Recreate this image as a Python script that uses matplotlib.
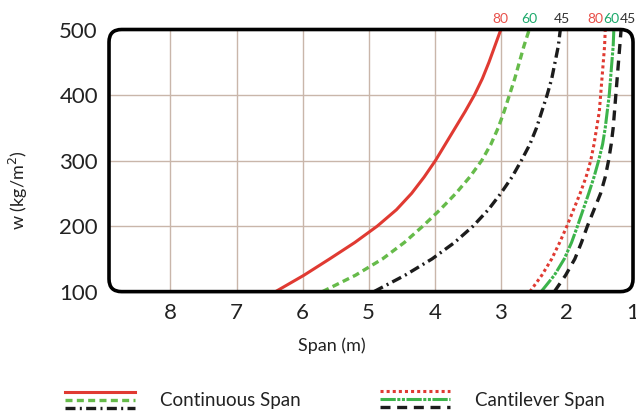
import numpy as np
import matplotlib
matplotlib.use("Agg")
import matplotlib.pyplot as plt
from matplotlib.patches import FancyBboxPatch
from matplotlib.lines import Line2D

# load levels (kg/m2) and allowable spans (m)
w = [100, 125, 150, 175, 200, 225, 250, 275, 300, 325, 350, 375, 400, 425, 450, 475, 500]
cont_80 = [6.41, 5.98, 5.59, 5.21, 4.87, 4.58, 4.35, 4.16, 3.99, 3.84, 3.69, 3.54, 3.40, 3.28, 3.18, 3.09, 3.00]
cont_60 = [5.70, 5.20, 4.79, 4.46, 4.18, 3.92, 3.68, 3.47, 3.29, 3.15, 3.04, 2.95, 2.87, 2.79, 2.72, 2.65, 2.57]
cont_45 = [4.92, 4.45, 4.04, 3.70, 3.42, 3.19, 3.00, 2.83, 2.69, 2.56, 2.46, 2.38, 2.30, 2.23, 2.18, 2.13, 2.10]
cant_80 = [2.56, 2.38, 2.23, 2.11, 2.00, 1.90, 1.80, 1.71, 1.64, 1.59, 1.55, 1.51, 1.49, 1.47, 1.45, 1.43, 1.42]
cant_60 = [2.39, 2.19, 2.04, 1.93, 1.84, 1.755, 1.67, 1.59, 1.52, 1.46, 1.42, 1.39, 1.36, 1.34, 1.32, 1.30, 1.29]
cant_45 = [2.19, 2.02, 1.88, 1.78, 1.69, 1.59, 1.49, 1.42, 1.37, 1.33, 1.30, 1.28, 1.26, 1.24, 1.22, 1.20, 1.18]
labels = ["80", "60", "45"]
x_ticks = [8, 7, 6, 5, 4, 3, 2, 1]
y_ticks = [100, 200, 300, 400, 500]

RED = "#e03a32"
GREEN = "#66bb4a"
GREEN2 = "#3cb44b"
BLACK = "#1c1c1c"
LBL_RED = "#e8504a"
LBL_GREEN = "#1aa86a"
LBL_BLACK = "#333333"

plt.rcParams["font.family"] = ["Lato", "DejaVu Sans"]

fig = plt.figure(figsize=(6.36, 4.15), dpi=100)
ax = fig.add_axes([0.1714, 0.2973, 0.8239, 0.6316])

styles = [
    (cont_80, dict(color=RED, lw=2.2, ls="-")),
    (cont_60, dict(color=GREEN, lw=2.4, ls=(0, (2.1, 1.3)))),
    (cont_45, dict(color=BLACK, lw=2.4, ls=(0, (3.0, 1.3, 0.6, 1.3)))),
    (cant_80, dict(color=RED, lw=2.2, ls=(0, (1.0, 1.0)))),
    (cant_60, dict(color=GREEN2, lw=2.2, ls=(0, (5, 0.5, 1, 0.5, 1, 0.5)))),
    (cant_45, dict(color=BLACK, lw=2.4, ls=(0, (3.0, 2.0)))),
]
for xs, st in styles:
    ax.plot(xs, w, solid_capstyle="butt", dash_capstyle="butt", solid_joinstyle="round", **st)

ax.set_xlim(8.93, 1.0)
ax.set_ylim(100, 500)
ax.set_xticks(x_ticks)
ax.set_yticks(y_ticks)
ax.grid(True, color="#c9b6aa", lw=1.0)
ax.tick_params(length=0, labelsize=16, colors="#222222")
ax.tick_params(axis="x", pad=8)
ax.tick_params(axis="y", pad=8)
for s in ax.spines.values():
    s.set_visible(False)

# rounded frame
bw, bh = 0.8239 * 636, 0.6316 * 415
frame = FancyBboxPatch((0, 0), 1, 1, boxstyle="round,pad=0,rounding_size=0.024",
                       mutation_aspect=bw / bh, transform=ax.transAxes,
                       fill=False, ec="black", lw=2.6, clip_on=False, zorder=5)
ax.add_patch(frame)

# no gridlines on the frame edges
for gl in ax.get_xgridlines()[-1:]:
    gl.set_visible(False)
for gl in ax.get_ygridlines()[::4]:
    gl.set_visible(False)

# top labels
tops = [cont_80[-1], cont_60[-1], cont_45[-1], cant_80[-1], cant_60[-1], cant_45[-1]]
cols = [LBL_RED, LBL_GREEN, LBL_BLACK] * 2
shifts = [0, 0, 1, -7.4, -1.6, 4.9]
for i, (xv, c) in enumerate(zip(tops, cols)):
    ax.annotate(labels[i % 3], (xv, 500), xytext=(shifts[i], 3.5), textcoords="offset points",
                ha="center", va="bottom", color=c, fontsize=10)

fig.text(332 / 636, 1 - 346 / 415, "Span (m)", ha="center", va="center", fontsize=13, color="#222222")
fig.text(18 / 636, 1 - 190 / 415, "w (kg/m$^2$)", rotation=90, ha="center", va="center",
         fontsize=13, color="#222222")

# legend
def leg(x0, x1, ys, sts, text, tx):
    for y, st in zip(ys, sts):
        fig.add_artist(Line2D([x0 / 636, x1 / 636], [1 - y / 415] * 2, dash_capstyle="butt", **st))
    fig.text(tx / 636, 1 - 400 / 415, text, ha="left", va="center", fontsize=13.5, color="#222222")

leg(65, 135, [392, 400, 408], [s[1] for s in styles[:3]], "Continuous Span", 160)
leg(380, 450, [391, 399, 407], [s[1] for s in styles[3:]], "Cantilever Span", 475)

fig.savefig("out.png", dpi=100)
